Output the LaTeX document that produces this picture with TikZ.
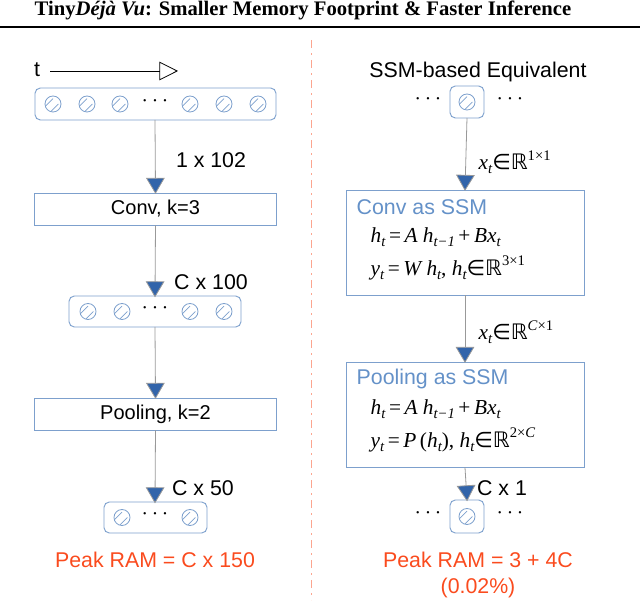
\documentclass[tikz,border=0pt]{standalone}
\usepackage{fontspec}
\setmainfont{Liberation Sans}
\newfontfamily\titlefont{Liberation Serif}
\newfontfamily\eqfont{Liberation Serif}
\newfontfamily\symf{DejaVu Sans}
\newcommand{\RR}{{\symf ℝ}}
\newcommand{\IN}{{\symf ∈}}
\newcommand{\sbx}[1]{\raisebox{-3pt}{\fontsize{11}{12}\selectfont #1}}
\newcommand{\spx}[1]{\raisebox{7pt}{\fontsize{11}{12}\selectfont #1}}
\usetikzlibrary{arrows.meta}
\definecolor{lb}{RGB}{125,160,205}
\definecolor{db}{RGB}{50,100,170}
\definecolor{ored}{RGB}{250,75,30}
\definecolor{tblue}{RGB}{100,145,200}
\tikzset{
 cellbox/.style={draw=lb,rounded corners=4pt,line width=0.7pt},
 opbox/.style={draw=lb,line width=0.7pt,minimum width=181.5pt,minimum height=24pt,font=\fontsize{15}{17}\selectfont},
 cell/.style={circle,draw=lb,line width=0.6pt,minimum size=12pt,inner sep=0pt,
   path picture={\draw[lb,line width=0.6pt] ([shift={(-2pt,-6pt)}]path picture bounding box.center) -- ++(6pt,6pt)
     ([shift={(-6pt,-2pt)}]path picture bounding box.center) -- ++(6pt,6pt);}},
 flow/.style={draw=gray!80,line width=0.6pt,-{Triangle[fill=db,length=12pt,width=14pt]},shorten >=-1pt},
 lab/.style={font=\fontsize{16}{18}\selectfont},
 mlab/.style={font=\eqfont\fontsize{16}{18}\selectfont},
}
\begin{document}
\begin{tikzpicture}[x=0.75pt,y=-0.75pt]
\useasboundingbox (0,0) rectangle (640,602);
\clip (0,0) rectangle (640,602);
\node[anchor=west,font=\titlefont\bfseries\fontsize{15.5}{17}\selectfont] (title) at (30,10) {Tiny\textit{Déjà Vu}: Smaller Memory Footprint \& Faster Inference};
\draw[line width=1.2pt] (0,27) coordinate (r1) -- (640,27) coordinate (r2);
\draw[ored!50,dash pattern=on 6pt off 4pt on 1pt off 4pt,line width=0.6pt] (311,40) coordinate (d1) -- (311,600) coordinate (d2);
% left
\node[font=\fontsize{16}{18}\selectfont] (t) at (37,70) {t};
\coordinate (ta) at (50,71); \coordinate (tb) at (178,71);
\draw[line width=0.6pt,-{Triangle[open,length=14pt,width=14pt]}] (ta) -- (tb);
\draw[cellbox] (35,88) rectangle (276,120);
\foreach \x/\n in {53/a1,87/a2,120/a3,190/a4,224/a5,258/a6}{\node[cell] (\n) at (\x,104) {};}
\node[lab] (ad) at (155,101) {$\cdots$};
\coordinate (b1) at (155,120);
\node[opbox] (conv) at (155.5,209) {Conv, k=3};
\draw[flow] (b1) -- (conv.north);
\node[lab] (l1) at (211,160) {1 x 102};
\draw[cellbox] (69,296) rectangle (241,327);
\foreach \x/\n in {88/c1,122/c2,190/c3,224/c4}{\node[cell] (\n) at (\x,311.5) {};}
\node[lab] (cd) at (155,308) {$\cdots$};
\coordinate (b2t) at (155,296); \coordinate (b2b) at (155,327);
\draw[flow] (conv.south) -- (b2t);
\node[lab] (l2) at (211,282) {C x 100};
\node[opbox] (pool) at (155.5,414) {Pooling, k=2};
\draw[flow] (b2b) -- (pool.north);
\draw[cellbox] (104,502) rectangle (207,533);
\node[cell] (e1) at (122,517.5) {}; \node[cell] (e2) at (190,517.5) {};
\node[lab] (ed) at (155,514) {$\cdots$};
\coordinate (b3t) at (155,502);
\draw[flow] (pool.south) -- (b3t);
\node[lab] (l3) at (203,488) {C x 50};
\node[text=ored,lab] (pk1) at (155,560) {Peak RAM = C x 150};
% right
\node[lab] (ssm) at (478,72) {SSM-based Equivalent};
\draw[cellbox] (450,86) rectangle (484,118);
\node[cell] (r0) at (467,102) {};
\node[lab] (r0l) at (428,99) {$\cdots$}; \node[lab] (r0r) at (510,99) {$\cdots$};
\coordinate (rb1) at (467,118);
\node[draw=lb,line width=0.7pt,minimum width=178.5pt,minimum height=78.75pt] (cs) at (465,242.5) {};
\draw[flow] (rb1) -- (cs.north);
\node[mlab,anchor=west] (x1) at (474,162) {\textit{x\sbx{t}}\IN\RR\spx{1×1}};
\node[anchor=west,text=tblue,lab] (cst) at (352,207) {Conv as SSM};
\node[mlab,anchor=west] (ce1) at (366,237) {\textit{h\sbx{t}}\,=\,\textit{A h\sbx{t−1}}\,+\,\textit{Bx\sbx{t}}};
\node[mlab,anchor=west] (ce2) at (366,268) {\textit{y\sbx{t}}\,=\,\textit{W h\sbx{t}}, \textit{h\sbx{t}}\IN\RR\spx{3×1}};
\node[draw=lb,line width=0.7pt,minimum width=178.5pt,minimum height=78.75pt] (ps) at (465,414.5) {};
\draw[flow] (cs.south) -- (ps.north);
\node[mlab,anchor=west] (x2) at (474,332) {\textit{x\sbx{t}}\IN\RR\spx{\textit{C}×1}};
\node[anchor=west,text=tblue,lab] (pst) at (352,379) {Pooling as SSM};
\node[mlab,anchor=west] (pe1) at (366,409) {\textit{h\sbx{t}}\,=\,\textit{A h\sbx{t−1}}\,+\,\textit{Bx\sbx{t}}};
\node[mlab,anchor=west] (pe2) at (366,440) {\textit{y\sbx{t}}\,=\,\textit{P}\,(\textit{h\sbx{t}}), \textit{h\sbx{t}}\IN\RR\spx{2×\textit{C}}};
\draw[cellbox] (450,500) rectangle (484,533);
\node[cell] (r1c) at (467,516.5) {};
\node[lab] (r1l) at (428,513) {$\cdots$}; \node[lab] (r1r) at (510,513) {$\cdots$};
\coordinate (rb2) at (467,500);
\draw[flow] (ps.south) -- (rb2);
\node[lab] (l4) at (502,488) {C x 1};
\node[text=ored,lab] (pk2) at (478,560) {Peak RAM = 3 + 4C};
\node[text=ored,lab] (pk3) at (478,588) {(0.02\%)};
\end{tikzpicture}
\end{document}
